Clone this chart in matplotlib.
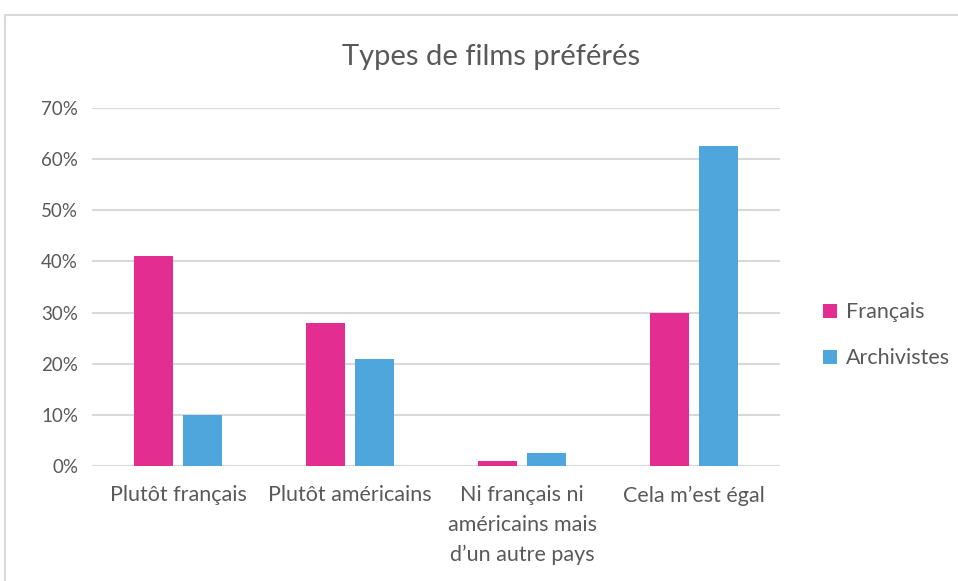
import numpy as np
import matplotlib.pyplot as plt
from matplotlib.patches import Rectangle
from matplotlib.ticker import PercentFormatter

plt.rcParams['font.family'] = ['Lato', 'DejaVu Sans']

# Données
categories = ['Plutôt français', 'Plutôt américains',
              'Ni français ni\naméricains mais\nd’un autre pays', 'Cela m’est égal']
francais = [41, 28, 0.9, 30]
archivistes = [10, 20.9, 2.5, 62.5]
series_names = ['Français', 'Archivistes']

rose = '#E32D91'
bleu = '#4EA6DC'
gris_txt = '#595959'
gris_grille = '#D9D9D9'

fig = plt.figure(figsize=(9.58, 5.81), dpi=100)
ax = fig.add_axes([92 / 958, 115 / 581, 688 / 958, 358 / 581])

# cadre du graphique (coupé à droite et en bas)
fig.patches.append(Rectangle((5 / 958, -0.1), 1.1, (581 - 15) / 581 + 0.1,
                             transform=fig.transFigure, fill=False,
                             edgecolor=gris_grille, linewidth=1.5))

x = np.arange(len(categories))
w = 0.227
off = 0.142
ax.bar(x - off, francais, w, color=rose, label=series_names[0], zorder=3)
ax.bar(x + off, archivistes, w, color=bleu, label=series_names[1], zorder=3)

ax.set_xlim(-0.5, len(categories) - 0.5)
ax.set_ylim(0, 70)
ax.set_yticks(np.arange(0, 71, 10))
ax.yaxis.set_major_formatter(PercentFormatter(decimals=0))
ax.grid(axis='y', color=gris_grille, linewidth=1.5, zorder=0)
for s in ax.spines.values():
    s.set_visible(False)
ax.tick_params(axis='both', length=0, colors=gris_txt)
ax.tick_params(axis='y', pad=10, labelsize=13.5)
ax.tick_params(axis='x', pad=14, labelsize=15.5)
ax.set_xticks(x)
ax.set_xticklabels(categories, linespacing=1.6)

fig.text(491 / 958, 1 - 57 / 581, 'Types de films préférés', ha='center', va='center',
         fontsize=21, color=gris_txt)

ax.legend(loc='center left', bbox_to_anchor=(1.035, 0.365), frameon=False,
          fontsize=15.5, labelcolor=gris_txt, handlelength=0.65, handleheight=0.65,
          handletextpad=0.4, labelspacing=1.2)

fig.savefig('out.png', dpi=100)
